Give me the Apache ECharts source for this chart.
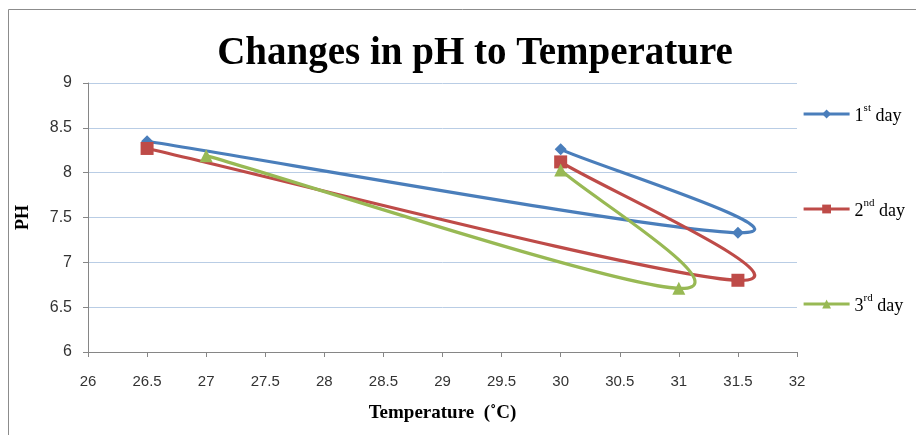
<!DOCTYPE html>
<html><head><meta charset="utf-8">
<script src="https://cdn.jsdelivr.net/npm/echarts@6/dist/echarts.min.js"></script>
<style>html,body{margin:0;padding:0;background:#fff}#c{width:916px;height:435px}</style>
</head><body><div id="c"></div>
<script>
const seriesNames = ['1st day', '2nd day', '3rd day'];
const day1 = [[26.5, 8.35], [31.5, 7.33], [30, 8.26]];
const day2 = [[26.5, 8.27], [31.5, 6.80], [30, 8.12]];
const day3 = [[27, 8.19], [31, 6.71], [30, 8.03]];
const xTicks = {min: 26, max: 32, interval: 0.5};
const yTicks = {min: 6, max: 9, interval: 0.5};

const chart = echarts.init(document.getElementById('c'));
const serif = '"Liberation Serif","Times New Roman",serif';
const sans = '"Liberation Sans","DejaVu Sans",sans-serif';
const colors = ['#4a7ebb', '#be4b48', '#98b954'];
const symbols = ['diamond', 'rect', 'triangle'];
const sizes = [12, 13, 13];
const data = [day1, day2, day3];
const TENSION = 0.19;

// Excel-like smoothed scatter line drawn through the axis scales
function splineRender(points, color) {
  return function (params, api) {
    if (params.dataIndexInside !== 0) return null;
    const p = points.map(d => api.coord(d));
    const n = p.length;
    const tan = i => {
      const a = p[Math.max(0, i - 1)], b = p[Math.min(n - 1, i + 1)];
      return [(b[0] - a[0]) * TENSION, (b[1] - a[1]) * TENSION];
    };
    let d = 'M' + p[0][0] + ' ' + p[0][1];
    for (let i = 0; i < n - 1; i++) {
      const t0 = tan(i), t1 = tan(i + 1);
      d += ' C' + (p[i][0] + t0[0]) + ' ' + (p[i][1] + t0[1]) + ' ' +
        (p[i + 1][0] - t1[0]) + ' ' + (p[i + 1][1] - t1[1]) + ' ' + p[i + 1][0] + ' ' + p[i + 1][1];
    }
    return {type: 'path', shape: {pathData: d}, style: {fill: 'none', stroke: color, lineWidth: 3.2, lineJoin: 'round'}};
  };
}

const lineSeries = data.map((d, i) => ({
  name: seriesNames[i] + ' curve', type: 'custom', data: d, encode: {x: 0, y: 1},
  renderItem: splineRender(d, colors[i]), z: 2, silent: true
}));
const markerSeries = data.map((d, i) => ({
  name: seriesNames[i], type: 'line', data: d,
  symbol: symbols[i], symbolSize: sizes[i], showAllSymbol: true,
  itemStyle: {color: colors[i]}, lineStyle: {color: colors[i], width: 3, opacity: 0}, z: 3
}));

chart.setOption({
  animation: false,
  graphic: [{type: 'rect', shape: {x: 8.5, y: 9.5, width: 920, height: 440}, style: {fill: 'none', stroke: '#8c8c8c', lineWidth: 1}}],
  title: {text: 'Changes in pH to Temperature', left: 470, top: 29, textAlign: 'center',
    textStyle: {fontFamily: serif, fontWeight: 'bold', fontSize: 39, color: '#000'}},
  grid: {left: 88, right: 119, top: 83, bottom: 83},
  legend: {orient: 'vertical', left: 797, top: 98, itemGap: 73, itemWidth: 46, itemHeight: 11,
    data: seriesNames.map((n, i) => ({name: n, lineStyle: {opacity: 1, width: 3.2, color: colors[i]}})),
    formatter: function (n) { const m = n.match(/^(\d)(\w+) (.*)$/); return '{n|' + m[1] + '}{s|' + m[2] + '}{n| ' + m[3] + '}'; },
    textStyle: {fontFamily: serif, fontSize: 18, color: '#000',
      rich: {n: {fontFamily: serif, fontSize: 18, color: '#000', verticalAlign: 'bottom', lineHeight: 22},
             s: {fontFamily: serif, fontSize: 11, color: '#000', verticalAlign: 'top', lineHeight: 22, padding: [0, 0, 10, 0]}}}},
  xAxis: {type: 'value', min: xTicks.min, max: xTicks.max, interval: xTicks.interval,
    name: 'Temperature  (˚C)', nameLocation: 'middle', nameGap: 52,
    nameTextStyle: {fontFamily: serif, fontWeight: 'bold', fontSize: 19, color: '#000'},
    axisLine: {lineStyle: {color: '#868686'}}, axisTick: {show: true, length: 5, lineStyle: {color: '#868686'}},
    axisLabel: {fontFamily: sans, fontSize: 15, color: '#333', margin: 22}, splitLine: {show: false}},
  yAxis: {type: 'value', min: yTicks.min, max: yTicks.max, interval: yTicks.interval,
    name: 'PH', nameLocation: 'middle', nameGap: 56, nameRotate: 90,
    nameTextStyle: {fontFamily: serif, fontWeight: 'bold', fontSize: 18, color: '#000'},
    axisLine: {show: true, lineStyle: {color: '#868686'}}, axisTick: {show: true, length: 5, lineStyle: {color: '#868686'}},
    axisLabel: {fontFamily: sans, fontSize: 16, color: '#333', margin: 16},
    splitLine: {lineStyle: {color: '#b9cde5'}}},
  series: lineSeries.concat(markerSeries)
});
</script></body></html>
